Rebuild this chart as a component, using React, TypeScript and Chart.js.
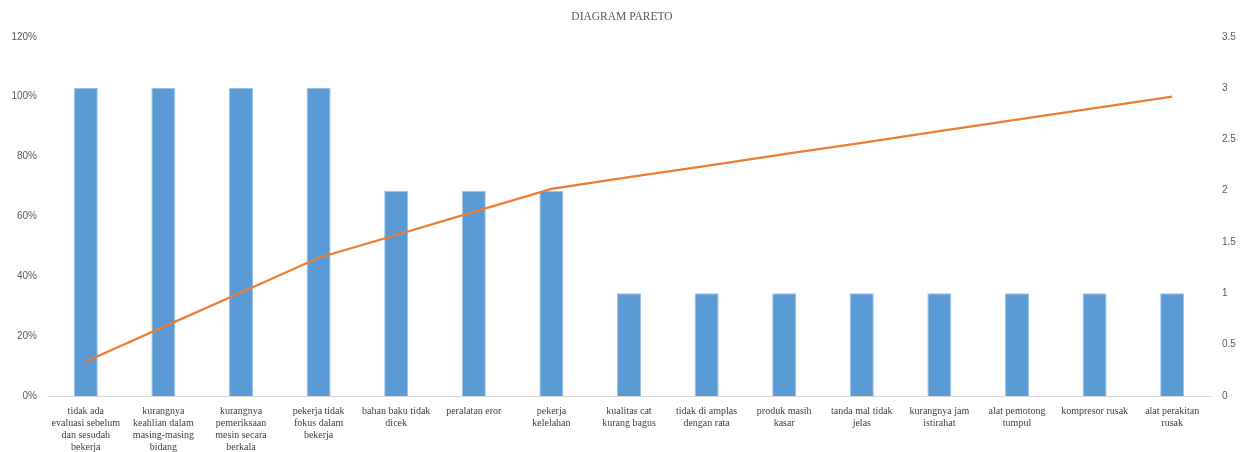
import React, { useEffect, useRef } from "react";
import { Chart, registerables } from "chart.js";

Chart.register(...registerables);

const categories: (string | string[])[] = [
  ["tidak ada", "evaluasi sebelum", "dan sesudah", "bekerja"],
  ["kurangnya", "keahlian dalam", "masing-masing", "bidang"],
  ["kurangnya", "pemeriksaan", "mesin secara", "berkala"],
  ["pekerja tidak", "fokus dalam", "bekerja"],
  ["bahan baku tidak", "dicek"],
  "peralatan eror",
  ["pekerja", "kelelahan"],
  ["kualitas cat", "kurang bagus"],
  ["tidak di amplas", "dengan rata"],
  ["produk masih", "kasar"],
  ["tanda mal tidak", "jelas"],
  ["kurangnya jam", "istirahat"],
  ["alat pemotong", "tumpul"],
  "kompresor rusak",
  ["alat perakitan", "rusak"],
];

const frequency = [3, 3, 3, 3, 2, 2, 2, 1, 1, 1, 1, 1, 1, 1, 1];
const cumulativePercent = [
  11.5, 23.1, 34.6, 46.2, 53.8, 61.5, 69.2, 73.1, 76.9, 80.8, 84.6, 88.5, 92.3, 96.2, 100,
];

const TEXT = "#595959";

export default function App() {
  const ref = useRef<HTMLCanvasElement | null>(null);
  useEffect(() => {
    if (!ref.current) return;
    const chart = new Chart(ref.current, {
      type: "bar",
      data: {
        labels: categories,
        datasets: [
          {
            type: "line",
            label: "Kumulatif",
            data: cumulativePercent,
            yAxisID: "yLeft",
            borderColor: "#ED7D31",
            backgroundColor: "#ED7D31",
            borderWidth: 2.25,
            pointRadius: 0,
            tension: 0,
            order: 0,
          } as any,
          {
            type: "bar",
            label: "Frekuensi",
            data: frequency,
            yAxisID: "yRight",
            backgroundColor: "#5B9BD5",
            borderColor: "#9DC3E6",
            borderWidth: 1,
            barPercentage: 0.31,
            categoryPercentage: 1,
            order: 1,
          },
        ],
      },
      options: {
        animation: false,
        responsive: true,
        maintainAspectRatio: false,
        layout: { padding: { top: 0, bottom: 0, left: 0, right: 0 } },
        plugins: {
          legend: { display: false },
          tooltip: { enabled: false },
          title: {
            display: true,
            text: "DIAGRAM PARETO",
            color: TEXT,
            font: { family: "'Liberation Serif'", size: 11.5, weight: "normal" },
            padding: { top: 10, bottom: 13 },
          },
        },
        scales: {
          x: {
            grid: { display: false, drawTicks: false },
            border: { display: true, color: "#D9D9D9", width: 1 },
            ticks: {
              color: "#404040",
              font: { family: "'Liberation Serif'", size: 10, lineHeight: 1.17 },
              padding: 10,
              maxRotation: 0,
              minRotation: 0,
              autoSkip: false,
            },
            afterFit: (s: any) => {
              s.height = 56;
            },
          },
          yLeft: {
            position: "left",
            min: 0,
            max: 120,
            grid: { display: false, drawTicks: false },
            border: { display: false },
            ticks: {
              stepSize: 20,
              color: TEXT,
              font: { family: "'Liberation Sans'", size: 10 },
              padding: 10,
              callback: (v: any) => v + "%",
            },
            afterFit: (s: any) => {
              s.width = 47;
            },
          },
          yRight: {
            position: "right",
            min: 0,
            max: 3.5,
            grid: { display: false, drawTicks: false },
            border: { display: false },
            ticks: {
              stepSize: 0.5,
              color: TEXT,
              font: { family: "'Liberation Sans'", size: 10 },
              padding: 11,
              callback: (v: any) => String(Number(v)),
            },
            afterFit: (s: any) => {
              s.width = 33;
            },
          },
        },
      },
    });
    return () => chart.destroy();
  }, []);
  return (
    <div style={{ position: "fixed", left: 0, top: 0, width: 1244, height: 452, background: "#fff" }}>
      <canvas ref={ref} />
    </div>
  );
}
